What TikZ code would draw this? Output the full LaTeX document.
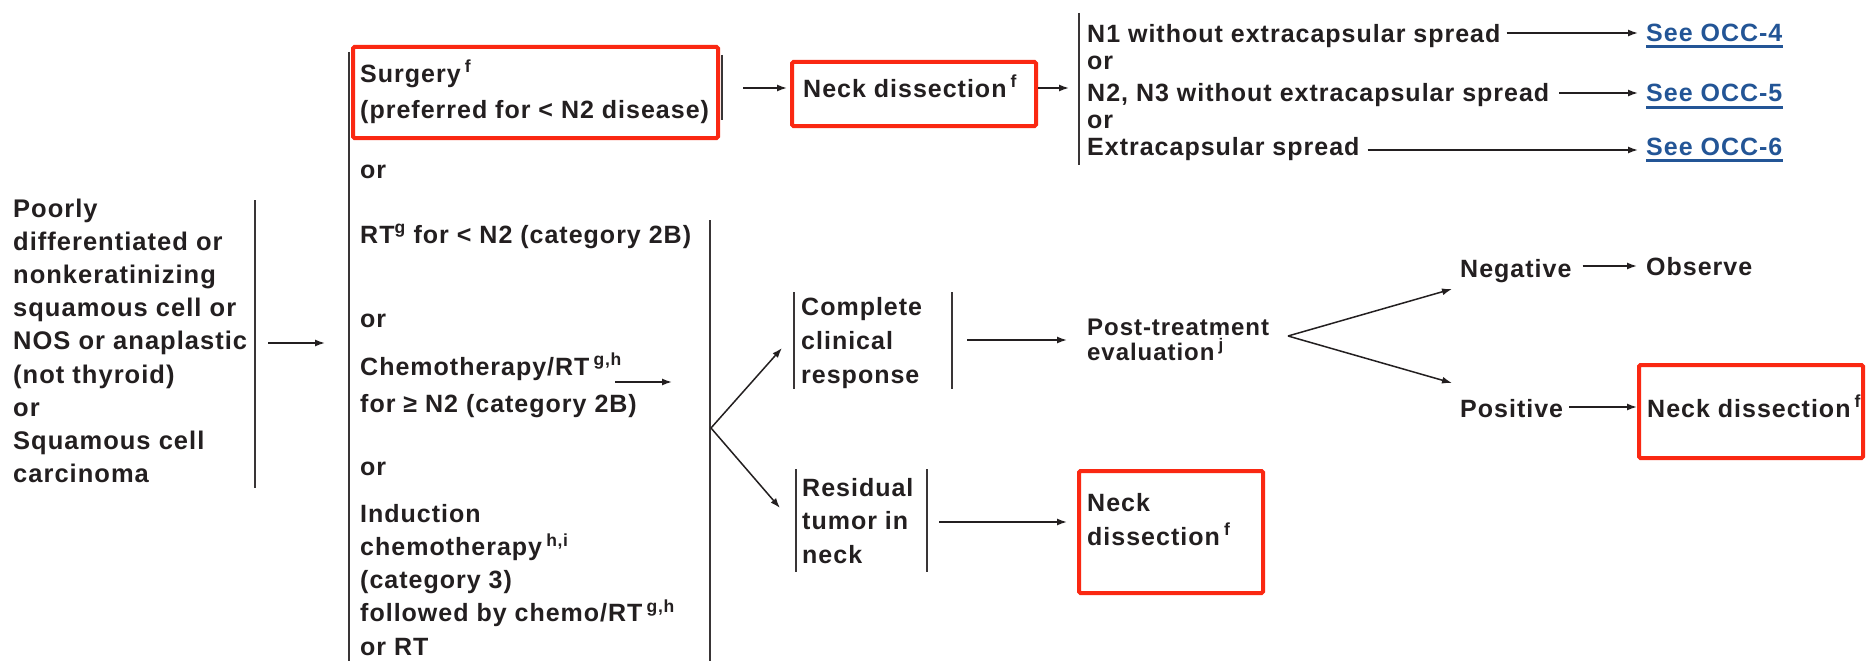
\documentclass[tikz,border=0pt]{standalone}
\usepackage{fontspec}
\setmainfont{Liberation Sans}[LetterSpace=4]
\usetikzlibrary{arrows.meta}
\definecolor{ink}{HTML}{231F20}
\definecolor{alert}{RGB}{250,40,18}
\definecolor{link}{RGB}{35,85,150}
% left-aligned stack of lines whose baseline is the first line's baseline
\newcommand\rows[1]{\vtop{\halign{##\hfil\cr#1\crcr}}}
\newcommand\supr[1]{\textsuperscript{#1}}

\begin{document}
\begin{tikzpicture}[x=1pt,y=-1pt,
  txt/.style={anchor=base west,inner sep=0pt,text=ink,font=\bfseries\fontsize{25}{33}\selectfont},
  arr/.style={draw=ink,line width=1.5pt,-{Latex[length=10pt,width=7pt]}},
  bar/.style={draw=ink!90,line width=2pt},
  alertbox/.style={draw=alert,line width=4pt,rounded corners=1.5pt},
  linktxt/.style={txt,text=link},
  ul/.style={draw=link,line width=3pt},
]
\useasboundingbox (0,0) rectangle (1866,661);
\fill[white] (0,0) rectangle (1866,661);

% diagnosis
\node[txt,font=\bfseries\fontsize{25.5}{33.2}\selectfont] (dx) at (13,217)
  {\rows{Poorly\cr differentiated or\cr nonkeratinizing\cr squamous cell or\cr NOS or anaplastic\cr (not thyroid)\cr or\cr Squamous cell\cr carcinoma}};
\draw[bar] (255,200) -- (255,488);
\coordinate (dxout) at (268,343);
\coordinate (txin) at (325,343);
\draw[arr] (dxout) -- (txin);

% treatment options
\draw[bar] (349,52) -- (349,661);
\draw[alertbox] (353,47) rectangle (718,138);
\node[txt,font=\bfseries\fontsize{25}{36}\selectfont] (surg) at (360,82)
  {\rows{Surgery\,\supr{f}\cr (preferred for < N2 disease)}};
\draw[bar] (722,55) -- (722,120);
\node[txt] (or1) at (360,178) {or};
\node[txt] (rt) at (360,243) {RT\supr{g} for < N2 (category 2B)};
\draw[bar] (710,220) -- (710,661);
\node[txt] (or2) at (360,327) {or};
\node[txt,font=\bfseries\fontsize{25}{37}\selectfont] (chemo) at (360,375)
  {\rows{Chemotherapy/RT\,\supr{g,h}\cr for ≥ N2 (category 2B)}};
\coordinate (chemoout) at (615,382);
\coordinate (chemoend) at (672,382);
\draw[arr] (chemoout) -- (chemoend);
\node[txt] (or3) at (360,475) {or};
\node[txt,font=\bfseries\fontsize{25}{33.3}\selectfont] (induct) at (360,522)
  {\rows{Induction\cr chemotherapy\,\supr{h,i}\cr (category 3)\cr followed by chemo/RT\,\supr{g,h}\cr or RT}};

% surgery branch
\coordinate (surgout) at (743,88);
\draw[alertbox] (792,62) rectangle (1036,126);
\node[txt] (nd1) at (803,97) {Neck dissection\,\supr{f}};
\draw[arr] (surgout) -- (787,88);
\coordinate (nd1out) at (1038,88);
\draw[arr] (nd1out) -- (1069,88);
\draw[bar] (1079,13) -- (1079,165);
\node[txt] (n1) at (1087,43) {N1 without extracapsular spread};
\node[txt] (orA) at (1087,70) {or};
\node[txt] (n23) at (1087,102) {N2, N3 without extracapsular spread};
\node[txt] (orB) at (1087,128) {or};
\node[txt] (ecs) at (1087,155) {Extracapsular spread};
\node[linktxt] (occ4) at (1646,42) {See OCC-4};
\node[linktxt] (occ5) at (1646,102) {See OCC-5};
\node[linktxt] (occ6) at (1646,155) {See OCC-6};
\foreach \n in {occ4,occ5,occ6}
  \draw[ul] ([yshift=-5pt]\n.base west) -- ([yshift=-5pt]\n.base east);
\draw[arr] ([xshift=6pt,yshift=10pt]n1.base east) -- ([xshift=-8pt,yshift=9pt]occ4.base west);
\draw[arr] ([xshift=10pt,yshift=9pt]n23.base east) -- ([xshift=-8pt,yshift=9pt]occ5.base west);
\draw[arr] ([xshift=8pt,yshift=5pt]ecs.base east) -- ([xshift=-8pt,yshift=5pt]occ6.base west);

% non-surgical branch: response
\coordinate (split) at (711,428);
\coordinate (ccrin) at (782,348);
\coordinate (resin) at (780,508);
\draw[arr] (split) -- (ccrin);
\draw[arr] (split) -- (resin);

\draw[bar] (794,292) -- (794,389);
\node[txt,font=\bfseries\fontsize{25}{34}\selectfont] (ccr) at (801,315)
  {\rows{Complete\cr clinical\cr response}};
\draw[bar] (952,292) -- (952,389);
\coordinate (ccrout) at (967,340);
\node[txt,font=\bfseries\fontsize{24}{25}\selectfont] (post) at (1087,335)
  {\rows{Post-treatment\cr evaluation\,\supr{j}}};
\draw[arr] (ccrout) -- (1067,340);

\draw[bar] (796,469) -- (796,572);
\node[txt,font=\bfseries\fontsize{25}{33.5}\selectfont] (res) at (802,496)
  {\rows{Residual\cr tumor in\cr neck}};
\draw[bar] (927,469) -- (927,572);
\coordinate (resout) at (939,522);
\draw[alertbox] (1079,471) rectangle (1263,593);
\node[txt,font=\bfseries\fontsize{25}{34}\selectfont] (nd3) at (1087,511)
  {\rows{Neck\cr dissection\,\supr{f}}};
\draw[arr] (resout) -- (1067,522);

% post-treatment evaluation outcomes
\coordinate (evalsplit) at (1288,336);
\node[txt] (neg) at (1460,277) {Negative};
\node[txt] (obs) at (1646,275) {Observe};
\node[txt] (pos) at (1460,417) {Positive};
\draw[alertbox] (1639,365) rectangle (1863,458);
\node[txt] (nd2) at (1647,417) {Neck dissection\,\supr{f}};
\draw[arr] (evalsplit) -- (1452,289);
\draw[arr] (evalsplit) -- (1452,383);
\draw[arr] ([xshift=11pt,yshift=11pt]neg.base east) -- ([xshift=-9pt,yshift=9pt]obs.base west);
\draw[arr] ([xshift=6pt,yshift=10pt]pos.base east) -- ([xshift=-10pt,yshift=10pt]nd2.base west);
\end{tikzpicture}
\end{document}
